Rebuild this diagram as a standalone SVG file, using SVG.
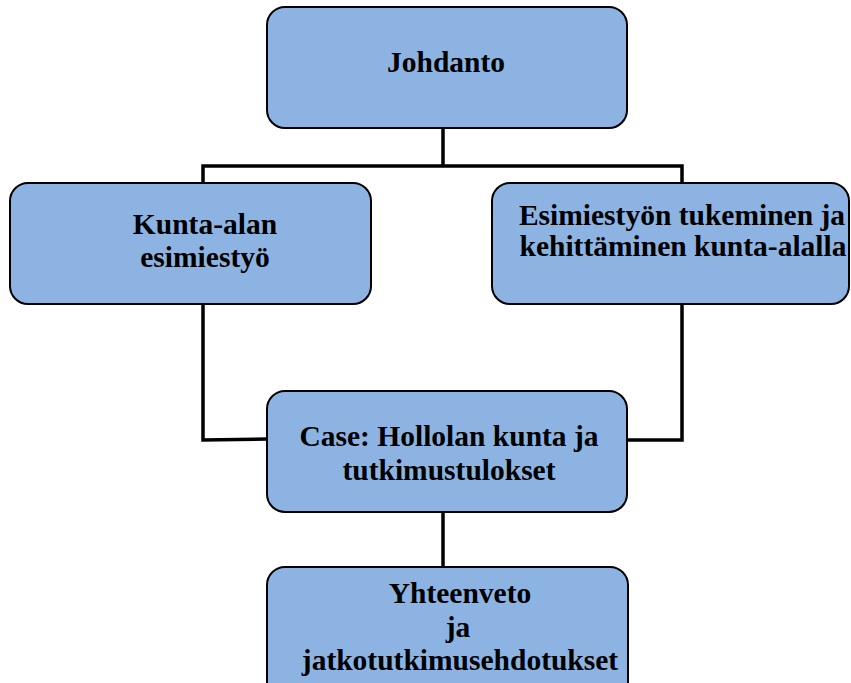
<svg xmlns="http://www.w3.org/2000/svg" width="851" height="683" viewBox="0 0 851 683">
  <style>
    .box { fill: #8DB3E2; stroke: #000; stroke-width: 2; }
    .lbl { font-family: "Liberation Serif", "Times New Roman", serif; font-weight: bold; font-size: 29.5px; fill: #000; text-anchor: middle; }
    .wire { fill: none; stroke: #000; stroke-width: 3.5; stroke-linejoin: miter; }
  </style>
  <rect width="851" height="683" fill="#fff"/>

  <!-- connectors -->
  <g id="connectors">
    <path class="wire" d="M443 128 V166 M203 183 V166 H682 V183"/>
    <path class="wire" d="M203 304 V440 L267 439"/>
    <path class="wire" d="M627 440 H682 V304"/>
    <path class="wire" d="M443 512 V570"/>
  </g>

  <g id="node-johdanto">
    <rect class="box" x="267" y="7" width="360" height="121" rx="18"/>
    <text class="lbl" x="446" y="72">Johdanto</text>
  </g>

  <g id="node-kunta-alan">
    <rect class="box" x="10" y="183" width="361" height="121" rx="18"/>
    <text class="lbl" x="205" y="234">Kunta-alan</text>
    <text class="lbl" x="205" y="267">esimiestyö</text>
  </g>

  <g id="node-tukeminen">
    <rect class="box" x="492" y="183" width="357" height="121" rx="18"/>
    <text class="lbl" x="682" y="225">Esimiestyön tukeminen ja</text>
    <text class="lbl" x="683" y="256">kehittäminen kunta-alalla</text>
  </g>

  <g id="node-case">
    <rect class="box" x="267" y="391" width="360" height="121" rx="18"/>
    <text class="lbl" x="449" y="446">Case: Hollolan kunta ja</text>
    <text class="lbl" x="449" y="480">tutkimustulokset</text>
  </g>

  <g id="node-yhteenveto">
    <rect class="box" x="267" y="567" width="361" height="140" rx="18"/>
    <text class="lbl" x="460" y="603">Yhteenveto</text>
    <text class="lbl" x="458" y="637">ja</text>
    <text class="lbl" x="460" y="670">jatkotutkimusehdotukset</text>
  </g>
</svg>
